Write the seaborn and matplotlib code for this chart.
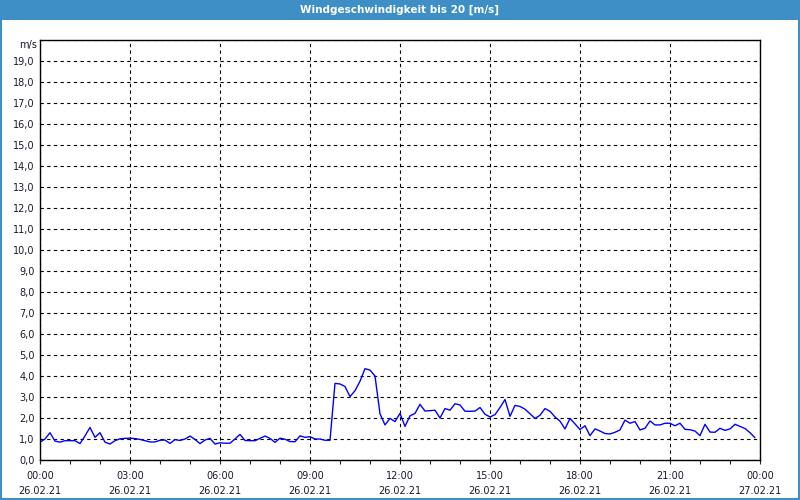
import numpy as np
import pandas as pd
import matplotlib
matplotlib.use("Agg")
import matplotlib.pyplot as plt
import matplotlib.dates as mdates
from matplotlib.ticker import FuncFormatter, MultipleLocator
from matplotlib.patches import Rectangle
import seaborn as sns

title = "Windgeschwindigkeit bis 20 [m/s]"
unit_label = "m/s"
start_time = "2021-02-26 00:00"
end_time = "2021-02-27 00:00"

wind_0_6h = [0.85, 1.0, 1.3, 0.9, 0.85, 0.92, 0.92, 0.92, 0.78, 1.15, 1.55, 1.08,
             1.3, 0.85, 0.76, 0.92, 1.01, 1.03, 1.04, 1.02, 0.98, 0.92, 0.86, 0.86,
             0.94, 0.95, 0.79, 0.97, 0.93, 1.0, 1.14, 0.98, 0.78, 0.95, 1.03, 0.76]
wind_6_12h = [0.82, 0.8, 0.8, 1.0, 1.22, 0.93, 0.92, 0.92, 1.03, 1.14, 1.03, 0.84,
              1.04, 0.99, 0.88, 0.87, 1.15, 1.08, 1.11, 1.0, 1.0, 0.94, 0.94, 3.65,
              3.62, 3.5, 3.02, 3.3, 3.75, 4.35, 4.28, 4.0, 2.2, 1.67, 1.98, 1.83]
wind_12_18h = [2.22, 1.6, 2.1, 2.22, 2.65, 2.33, 2.35, 2.37, 2.0, 2.45, 2.37, 2.68,
               2.62, 2.32, 2.32, 2.33, 2.5, 2.18, 2.05, 2.16, 2.5, 2.88, 2.08, 2.6,
               2.55, 2.42, 2.2, 1.98, 2.13, 2.45, 2.32, 2.05, 1.85, 1.48, 1.98, 1.72]
wind_18_24h = [1.45, 1.63, 1.16, 1.48, 1.38, 1.26, 1.24, 1.32, 1.43, 1.9, 1.75, 1.83,
               1.43, 1.51, 1.86, 1.67, 1.67, 1.75, 1.75, 1.63, 1.75, 1.46, 1.44, 1.38,
               1.16, 1.7, 1.33, 1.32, 1.51, 1.41, 1.48, 1.7, 1.6, 1.5, 1.3, 1.06]

speed = wind_0_6h + wind_6_12h + wind_12_18h + wind_18_24h
times = pd.date_range(start_time, periods=len(speed), freq="10min")
df = pd.DataFrame({"time": times, "speed": speed})

sns.set_style("white")
plt.rcParams["font.family"] = ["DejaVu Sans"]

fig = plt.figure(figsize=(8, 5), dpi=100, facecolor="white")
ax = fig.add_axes([0.05, 0.08, 0.90, 0.84])

sns.lineplot(data=df, x="time", y="speed", ax=ax, color="#0000ff", linewidth=1.0)

ax.set_xlim(pd.Timestamp(start_time), pd.Timestamp(end_time))
ax.set_ylim(0, 20)
ax.yaxis.set_major_locator(MultipleLocator(1))
ax.yaxis.set_major_formatter(FuncFormatter(lambda v, p: f"{v:.1f}".replace(".", ",") if v < 19.5 else ""))
ax.xaxis.set_major_locator(mdates.HourLocator(byhour=range(0, 24, 3)))
ax.xaxis.set_minor_locator(mdates.HourLocator())
ax.xaxis.set_major_formatter(mdates.DateFormatter("%H:%M\n%d.%m.%y"))

ax.grid(True, which="major", color="black", linestyle=(0, (3, 3)), linewidth=0.8)
ax.set_axisbelow(True)
for s in ax.spines.values():
    s.set_visible(True)
    s.set_color("black")
    s.set_linewidth(1.0)

ax.tick_params(axis="y", length=0, pad=4, labelsize=7, labelcolor="#1a1a2a")
ax.tick_params(axis="x", which="both", direction="out", length=3, width=0.8,
               bottom=True, pad=5, labelsize=7, labelcolor="#1a1a2a")
for lab in ax.get_xticklabels():
    lab.set_linespacing(1.65)
ax.set_xlabel("")
ax.set_ylabel("")

fig.text(37 / 800, 1 - 45 / 500, unit_label, ha="right", va="center", fontsize=7, color="#1a1a2a")

# title bar and frame
fig.patches.append(Rectangle((0, 1 - 20 / 500), 1, 20 / 500, transform=fig.transFigure,
                             facecolor="#3d8fc6", edgecolor="none", zorder=0))
fig.text(0.5, 1 - 10 / 500, title, ha="center", va="center", fontsize=7.5,
         color="white", fontweight="bold")
fig.patches.append(Rectangle((0.001, 0.003), 0.998, 0.996, transform=fig.transFigure,
                             facecolor="none", edgecolor="#3d8fc6", linewidth=1.5, zorder=0))

fig.savefig("out.png", dpi=100, facecolor="white")
